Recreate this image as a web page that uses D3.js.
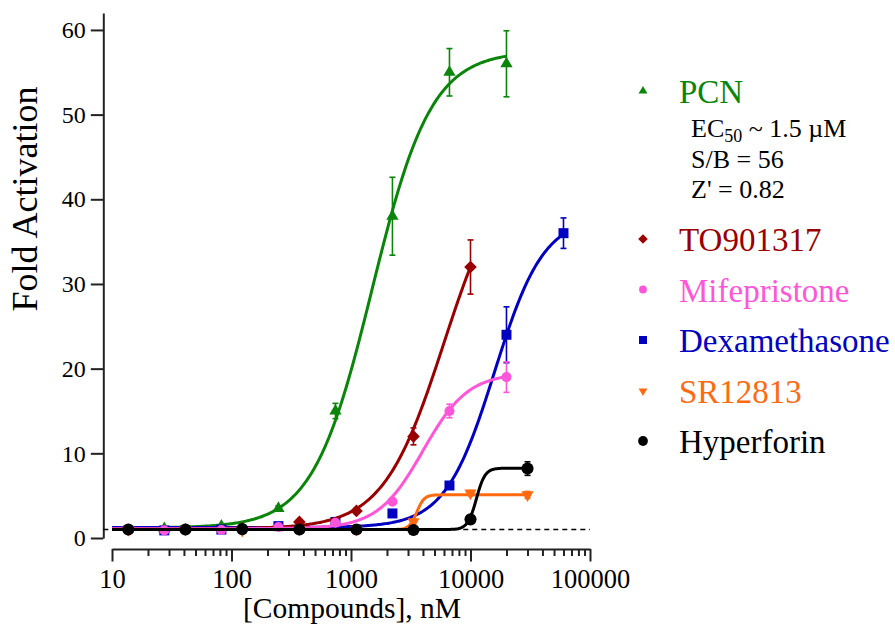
<!DOCTYPE html>
<html>
<head>
<meta charset="utf-8">
<style>
    body { margin: 0; background: #fff; }
    svg text { font-family: "Liberation Serif", "Times New Roman", serif; }
    .axis path, .axis line { stroke: #222; stroke-width: 2; }
    .axis text { fill: #000; }
</style>
<script src="https://d3js.org/d3.v7.min.js"></script>
</head>
<body>
<svg id="chart" width="895" height="626" font-family="Liberation Serif, serif"></svg>
<script>
// concentrations (nM), fold activation and error (SD) per compound
var pcnConc = [27.4, 82.3, 247, 741, 2222, 6667, 20000];
var pcnFold = [1.1, 1.4, 3.5, 15, 38, 55, 56];
var pcnErr  = [0, 0, 0.3, 0.9, 4.6, 2.8, 3.9];

var toConc = [13.7, 41.2, 123, 370, 1111, 3333, 10000];
var toFold = [0.95, 1.0, 1.1, 1.9, 3.2, 12, 32];
var toErr  = [0, 0, 0, 0.2, 0.3, 1.0, 3.2];

var mifConc = [27.4, 82.3, 247, 741, 2222, 6667, 20000];
var mifFold = [0.9, 0.95, 1.3, 1.8, 4.3, 15, 19];
var mifErr  = [0, 0, 0, 0.1, 0.3, 0.8, 1.8];

var dexConc = [27.4, 82.3, 247, 741, 2222, 6667, 20000, 60000];
var dexFold = [0.9, 1.0, 1.4, 1.9, 2.9, 6.2, 24, 36];
var dexErr  = [0, 0, 0, 0, 0.2, 0.3, 3.3, 1.8];

var srConc = [13.7, 41.2, 123, 370, 1111, 3333, 10000, 30000];
var srFold = [1.0, 1.0, 0.9, 1.0, 1.0, 1.9, 5.3, 5.1];
var srErr  = [0, 0, 0, 0, 0, 0.2, 0.3, 0.4];

var hypConc = [13.7, 41.2, 123, 370, 1111, 3333, 10000, 30000];
var hypFold = [1.0, 1.0, 1.05, 1.0, 1.0, 0.95, 2.2, 8.2];
var hypErr  = [0, 0, 0, 0, 0, 0, 0.2, 0.8];

// fitted dose-response (4PL) parameters, order as names below
var names    = ["PCN", "TO901317", "Mifepristone", "Dexamethasone", "SR12813", "Hyperforin"];
var fitBottom = [1.2, 1.1, 1.1, 1.25, 1.0, 1.0];
var fitTop    = [57.5, 45, 19.5, 38, 5.1, 8.25];
var fitEC50   = [1500, 6000, 4000, 15900, 3550, 11200];
var fitHill   = [1.75, 1.7, 2.3, 2.1, 14, 12];

var xTicks = [10, 100, 1000, 10000, 100000];
var yTicks = [0, 10, 20, 30, 40, 50, 60];
var annotation = ["S/B = 56", "Z' = 0.82"];

var colors = ["#0a850a", "#990000", "#ff55d8", "#0000c0", "#ff6a10", "#000000"];

var series = [
    {conc: pcnConc, fold: pcnFold, err: pcnErr, sym: "tri", size: 65, lsize: 34},
    {conc: toConc, fold: toFold, err: toErr, sym: "dia", size: 80, lsize: 46},
    {conc: mifConc, fold: mifFold, err: mifErr, sym: "circ", size: 80, lsize: 48},
    {conc: dexConc, fold: dexFold, err: dexErr, sym: "sq", size: 100, lsize: 64},
    {conc: srConc, fold: srFold, err: srErr, sym: "tridown", size: 65, lsize: 34},
    {conc: hypConc, fold: hypFold, err: hypErr, sym: "circ", size: 115, lsize: 75}
];
series.forEach(function (s, i) {
    s.name = names[i];
    s.color = colors[i];
    s.bottom = fitBottom[i];
    s.top = fitTop[i];
    s.ec50 = fitEC50[i];
    s.hill = fitHill[i];
});

var FONT = "'Liberation Serif', 'Times New Roman', serif";
var svg = d3.select("#chart");

var x = d3.scaleLog().domain([10, 100000]).range([112, 590]);
var y = d3.scaleLinear().domain([0, 62]).range([538, 13]);
var axisX = 103.3, axisY = 549;

function symbolPath(s, size) {
    var type = {tri: d3.symbolTriangle, tridown: d3.symbolTriangle,
                dia: d3.symbolSquare, sq: d3.symbolSquare, circ: d3.symbolCircle}[s.sym];
    return d3.symbol().type(type).size(size)();
}
function symbolRotate(s) {
    if (s.sym == "tridown") return " rotate(180)";
    if (s.sym == "dia") return " rotate(45)";
    return "";
}

// y axis
var gy = svg.append("g")
    .attr("class", "axis")
    .attr("transform", "translate(" + axisX + ",0)")
    .call(d3.axisLeft(y).tickValues(yTicks).tickSize(12.5).tickSizeOuter(0).tickPadding(5));
gy.attr("font-family", FONT);
gy.selectAll("text").style("font-size", "24px").style("font-family", FONT);

// x axis: majors with labels, minors without
var minor = [];
xTicks.slice(0, -1).forEach(function (t) {
    for (var k = 2; k <= 9; k++) minor.push(t * k);
});
var gx = svg.append("g")
    .attr("class", "axis")
    .attr("transform", "translate(0," + axisY + ")")
    .call(d3.axisBottom(x).tickValues(xTicks).tickFormat(d3.format("d")).tickSize(12.5).tickSizeOuter(0));
gx.attr("font-family", FONT);
gx.selectAll("text").style("font-size", "26.5px").style("font-family", FONT).attr("y", 39).attr("dy", 0);
svg.append("g")
    .attr("class", "axis")
    .attr("transform", "translate(0," + axisY + ")")
    .call(d3.axisBottom(x).tickValues(minor).tickFormat("").tickSize(7).tickSizeOuter(0))
    .select(".domain").remove();

// baseline at fold = 1
svg.append("line")
    .attr("x1", axisX).attr("x2", x.range()[1])
    .attr("y1", y(1)).attr("y2", y(1))
    .attr("stroke", "#000").attr("stroke-width", 1.4)
    .attr("stroke-dasharray", "5,4");

// axis titles
svg.append("text")
    .attr("x", 352).attr("y", 618)
    .attr("text-anchor", "middle")
    .style("font-size", "29.5px").style("font-family", FONT)
    .text("[Compounds], nM");
svg.append("text")
    .attr("transform", "translate(37,199) rotate(-90)")
    .attr("text-anchor", "middle")
    .style("font-size", "36px").style("font-family", FONT)
    .text("Fold Activation");

// draw order as in the original (blue under pink, black on top)
var order = [0, 3, 1, 2, 4, 5];
var line = d3.line().x(function (d) { return x(d[0]); }).y(function (d) { return y(d[1]); });

order.forEach(function (i) {
    var s = series[i];
    var g = svg.append("g");
    var lo = Math.log10(x.domain()[0]), hi = Math.log10(d3.max(s.conc));
    var curve = d3.range(0, 301).map(function (k) {
        var c = Math.pow(10, lo + (hi - lo) * k / 300);
        return [c, s.bottom + (s.top - s.bottom) / (1 + Math.pow(s.ec50 / c, s.hill))];
    });
    g.append("path")
        .attr("d", line(curve))
        .attr("fill", "none")
        .attr("stroke", s.color)
        .attr("stroke-width", 3);

    var pts = s.conc.map(function (c, j) { return {c: c, v: s.fold[j], e: s.err[j]}; });
    var eb = g.selectAll(".eb").data(pts.filter(function (p) { return p.e > 0; }))
        .enter().append("g");
    eb.append("line")
        .attr("x1", function (p) { return x(p.c); }).attr("x2", function (p) { return x(p.c); })
        .attr("y1", function (p) { return y(p.v + p.e); }).attr("y2", function (p) { return y(p.v - p.e); });
    eb.append("line")
        .attr("x1", function (p) { return x(p.c) - 3; }).attr("x2", function (p) { return x(p.c) + 3; })
        .attr("y1", function (p) { return y(p.v + p.e); }).attr("y2", function (p) { return y(p.v + p.e); });
    eb.append("line")
        .attr("x1", function (p) { return x(p.c) - 3; }).attr("x2", function (p) { return x(p.c) + 3; })
        .attr("y1", function (p) { return y(p.v - p.e); }).attr("y2", function (p) { return y(p.v - p.e); });
    eb.selectAll("line").attr("stroke", s.color).attr("stroke-width", 1.6);

    g.selectAll(".pt").data(pts).enter().append("path")
        .attr("d", symbolPath(s, s.size))
        .attr("transform", function (p) {
            return "translate(" + x(p.c) + "," + y(p.v) + ")" + symbolRotate(s);
        })
        .attr("fill", s.color);
});

// legend
var legendY = [103, 251, 301.5, 352, 403, 453];
series.forEach(function (s, i) {
    svg.append("path")
        .attr("d", symbolPath(s, s.lsize))
        .attr("transform", "translate(643," + (legendY[i] - 12) + ")" + symbolRotate(s))
        .attr("fill", s.color);
    svg.append("text")
        .attr("x", 679).attr("y", legendY[i])
        .style("font-size", "33px").style("font-family", FONT)
        .attr("fill", s.color)
        .text(s.name);
});

var ec = svg.append("text").attr("x", 691).attr("y", 137)
    .style("font-size", "26px").style("font-family", FONT);
ec.append("tspan").text("EC");
ec.append("tspan").attr("dy", 5).style("font-size", "18px").text("50");
ec.append("tspan").attr("dy", -5).text(" ~ 1.5 \u00b5M");
annotation.forEach(function (t, k) {
    svg.append("text")
        .attr("x", 691).attr("y", 168 + k * 29.5)
        .style("font-size", "26px").style("font-family", FONT)
        .text(t);
});
</script>
</body>
</html>
